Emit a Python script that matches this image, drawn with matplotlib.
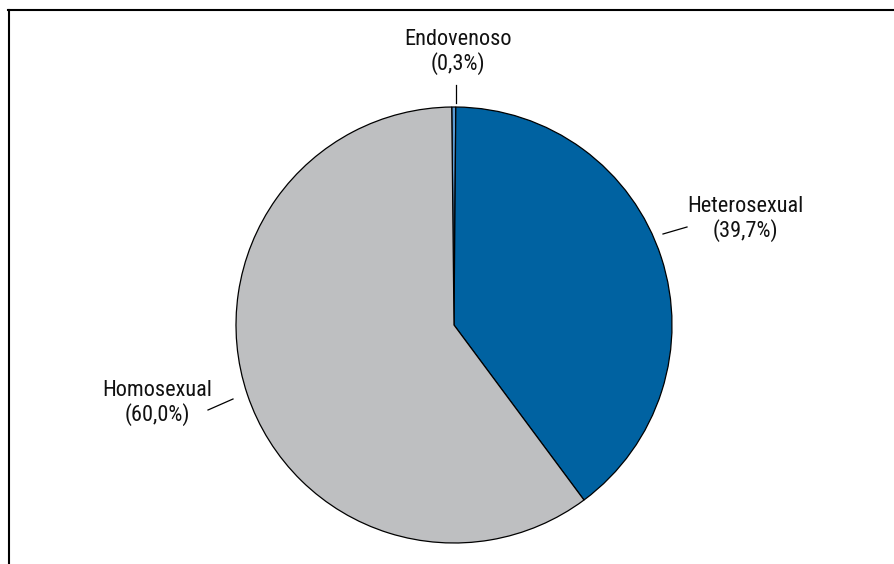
import matplotlib
matplotlib.use("Agg")
import matplotlib.pyplot as plt
from matplotlib.lines import Line2D

categories = ["Endovenoso", "Heterosexual", "Homosexual"]
values = [0.3, 39.7, 60.0]
labels = ["Endovenoso\n(0,3%)", "Heterosexual\n(39,7%)", "Homosexual\n(60,0%)"]
colors = ["#5B9BD3", "#0062A1", "#BEBFC1"]

W, H = 895, 564
fig = plt.figure(figsize=(W / 100, H / 100), dpi=100)
ax = fig.add_axes([0, 0, 1, 1])

cx, cy, R = 454, H - 325, 218
ax.pie(values, colors=colors, startangle=90.6, counterclock=False,
       center=(cx, cy), radius=R, frame=True,
       wedgeprops=dict(edgecolor="black", linewidth=0.9))
ax.set_xlim(0, W)
ax.set_ylim(0, H)
ax.set_aspect("equal")
ax.axis("off")

font = ["Roboto Condensed", "DejaVu Sans"]
fs = 16
# label positions (pixel layout)
text_pos = [(458, 52), (745, 219), (157, 403)]
leaders = [((456, 85), (456, 103)), ((663, 234), (687, 227)), ((208, 410), (233, 399))]
for lab, (tx, ty), ((x0, y0), (x1, y1)) in zip(labels, text_pos, leaders):
    ax.text(tx, H - ty, lab, ha="center", va="center", fontsize=fs, family=font,
            linespacing=1.12, color="#111111")
    ax.plot([x0, x1], [H - y0, H - y1], color="black", lw=0.9)

# outer frame (cropped at right and bottom)
fig.add_artist(Line2D([8.5 / W, 8.5 / W], [0, 1 - 10 / H], transform=fig.transFigure,
                      color="black", lw=1.5))
fig.add_artist(Line2D([8 / W, 1], [1 - 10 / H, 1 - 10 / H], transform=fig.transFigure,
                      color="black", lw=1.5))

fig.savefig("out.png", dpi=100, facecolor="white")
